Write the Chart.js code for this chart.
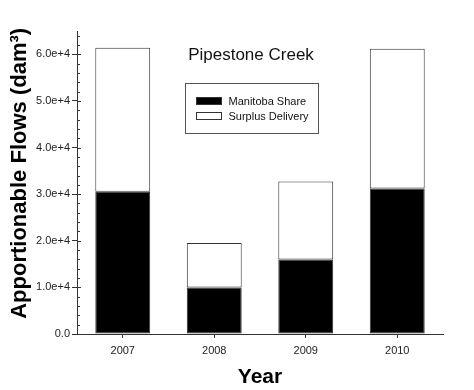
<!DOCTYPE html>
<html>
<head>
<meta charset="utf-8">
<script src="https://cdn.jsdelivr.net/npm/chart.js@4"></script>
<style>
  html, body { margin: 0; padding: 0; background: #fff; }
  #wrap { width: 474px; height: 390px; }
</style>
</head>
<body>
<div id="wrap"><canvas id="myChart" width="474" height="390"></canvas></div>
<script>
var years = ['2007', '2008', '2009', '2010'];
var manitobaShare = [30500, 10000, 16000, 31200];
var surplusDelivery = [30900, 9500, 16700, 30000];
var yTickValues = [0, 10000, 20000, 30000, 40000, 50000, 60000];
var yMinorStep = 2000;
var yMax = 65000;

var FONT = "'Liberation Sans', Arial, sans-serif";
var AXIS = '#333';

// minor ticks on the inside of the y axis, plus the inner half of the major ones
var yTicksInside = {
    id: 'yTicksInside',
    afterDraw: function (chart) {
        var y = chart.scales.y, c = chart.ctx, x0 = chart.chartArea.left;
        c.save();
        c.strokeStyle = AXIS;
        c.lineWidth = 1;
        for (var v = 0; v < yMax; v += yMinorStep) {
            var py = Math.round(y.getPixelForValue(v)) + 0.5;
            var len = yTickValues.indexOf(v) >= 0 ? 4 : 3;
            c.beginPath();
            c.moveTo(x0, py);
            c.lineTo(x0 + len, py);
            c.stroke();
        }
        c.restore();
    }
};

// site name and boxed legend inside the plot
var insideText = {
    id: 'insideText',
    afterDraw: function (chart) {
        var c = chart.ctx, a = chart.chartArea;
        c.save();
        c.fillStyle = '#111';
        c.font = '17px ' + FONT;
        c.textAlign = 'center';
        c.textBaseline = 'middle';
        c.fillText('Pipestone Creek', a.left + 174, a.top + 24);

        var bx = a.left + 108.5, by = a.top + 52.5;
        c.strokeStyle = '#555';
        c.lineWidth = 1;
        c.strokeRect(bx, by, 133, 50);
        c.font = '11px ' + FONT;
        c.textAlign = 'left';
        chart.data.datasets.forEach(function (ds, i) {
            var sy = by + 14 + i * 15;
            c.fillStyle = ds.backgroundColor;
            c.fillRect(bx + 11, sy, 25, 7);
            c.strokeStyle = '#333';
            c.strokeRect(bx + 11, sy, 25, 7);
            c.fillStyle = '#111';
            c.fillText(ds.label, bx + 43, sy + 4);
        });
        c.restore();
    }
};

var ctx = document.getElementById('myChart').getContext('2d');
var myChart = new Chart(ctx, {
    type: 'bar',
    data: {
        labels: years,
        datasets: [{
            label: 'Manitoba Share',
            data: manitobaShare,
            backgroundColor: '#000',
            borderColor: AXIS,
            borderWidth: 1,
            borderSkipped: false
        }, {
            label: 'Surplus Delivery',
            data: surplusDelivery,
            backgroundColor: '#fff',
            borderColor: AXIS,
            borderWidth: 1,
            borderSkipped: false
        }]
    },
    options: {
        responsive: false,
        animation: false,
        layout: {
            padding: { left: 0, right: 31, top: 31, bottom: 0 }
        },
        datasets: {
            bar: { barPercentage: 0.6, categoryPercentage: 1 }
        },
        plugins: {
            legend: { display: false },
            tooltip: { enabled: false }
        },
        scales: {
            x: {
                stacked: true,
                offset: true,
                afterFit: function (s) { s.height = 56; },
                border: { display: true, color: AXIS, width: 1 },
                grid: { offset: false, drawOnChartArea: false, drawTicks: true, tickLength: 4, color: AXIS },
                ticks: { color: '#222', padding: 6, font: { family: FONT, size: 11 } },
                title: {
                    display: true,
                    text: 'Year',
                    color: '#000',
                    padding: { top: 0, bottom: 0 },
                    font: { family: FONT, size: 21, weight: 'bold' }
                }
            },
            y: {
                stacked: true,
                min: 0,
                max: yMax,
                afterFit: function (s) { s.width = 77; },
                afterBuildTicks: function (s) {
                    s.ticks = yTickValues.map(function (v) { return { value: v }; });
                },
                border: { display: true, color: AXIS, width: 1 },
                grid: { drawOnChartArea: false, drawTicks: true, tickLength: 5, color: AXIS },
                ticks: {
                    autoSkip: false,
                    color: '#222',
                    padding: 2,
                    font: { family: FONT, size: 11 },
                    callback: function (v) {
                        return v === 0 ? '0.0' : (v / 10000).toFixed(1) + 'e+4';
                    }
                },
                title: {
                    display: true,
                    text: '   Apportionable Flows (dam\u00b3)',
                    color: '#000',
                    padding: { top: 7, bottom: 0 },
                    font: { family: FONT, size: 22, weight: 'bold' }
                }
            }
        }
    },
    plugins: [yTicksInside, insideText]
});
</script>
</body>
</html>
